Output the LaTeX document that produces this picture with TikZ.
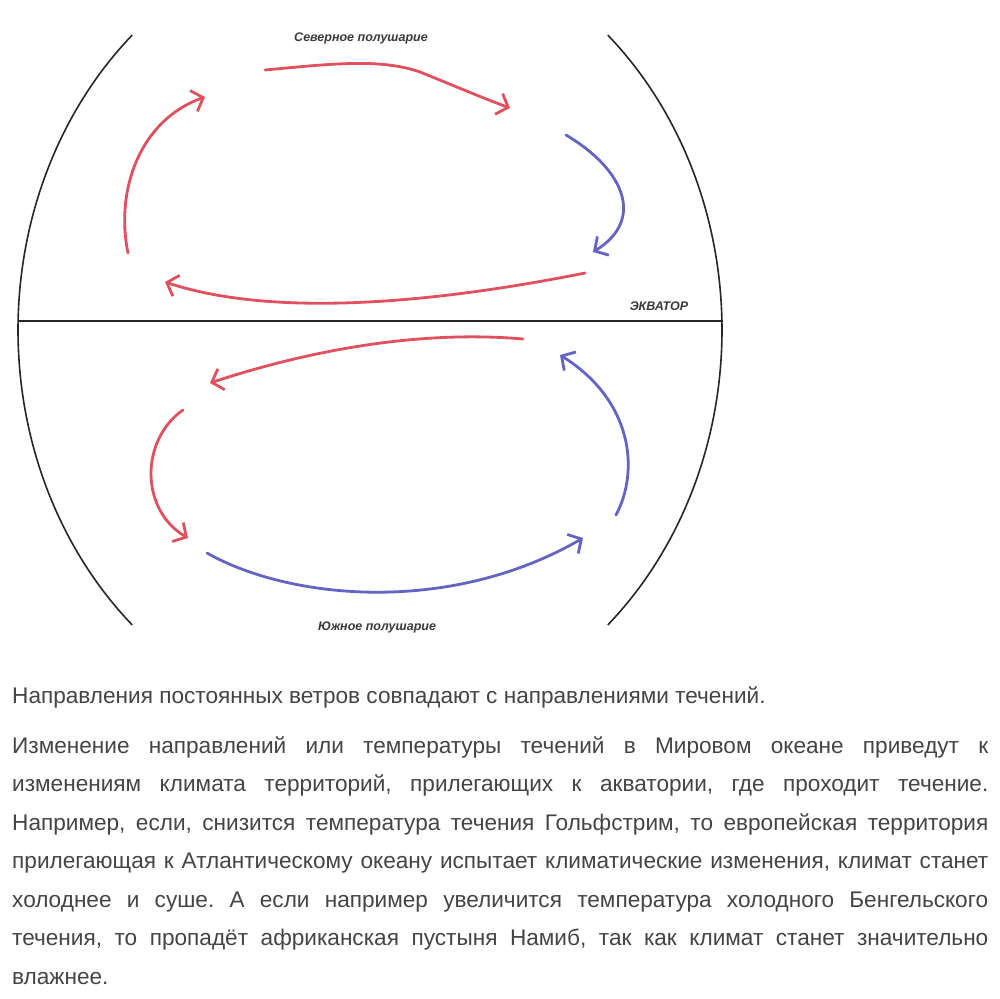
\documentclass[tikz,border=0pt]{standalone}
\usepackage{fontspec}
\setmainfont{Liberation Sans}
\usetikzlibrary{arrows.meta}

\definecolor{currwarm}{RGB}{224,80,94}
\definecolor{currcold}{RGB}{100,100,196}
\definecolor{inkgray}{RGB}{58,58,58}

\begin{document}
\frenchspacing
\begin{tikzpicture}[x=1pt, y=-1pt,
  warm/.style={draw=currwarm, line width=2.8pt, line cap=round,
               -{Straight Barb[length=10pt, width=22pt]}},
  cold/.style={warm, draw=currcold},
  hemi/.style={font=\fontsize{12.5}{15}\selectfont\bfseries\itshape, text=inkgray, inner sep=0pt},
  rim/.style={line width=1.6pt, black!85},
  lead/.style={font=\fontsize{22.6}{38.5}\selectfont, text=inkgray!95, inner sep=0pt},
  body/.style={lead, align=justify, text width=976pt},
]
\useasboundingbox (0,0) rectangle (1000,998);

% Globe outline and equator
\draw[rim] (370,330) ++(227.5:352 and 400) arc[start angle=227.5, end angle=132.5, x radius=352, y radius=400];
\draw[rim] (370,330) ++(-47.5:352 and 400) arc[start angle=-47.5, end angle=47.5, x radius=352, y radius=400];
\draw[rim, line width=2pt] (18,321) -- (723,321);

% Labels
\node[hemi] (north) at (361,38) {Северное полушарие};
\node[hemi] (equator) at (659,306) {ЭКВАТОР};
\node[hemi] (south) at (377,627) {Южное полушарие};

% === Northern gyre (clockwise) ===
\draw[warm] (265,70) .. controls (330,64) and (380,58) .. (420,72)
            .. controls (450,84) and (480,97) .. (510,108);
\draw[cold] (566,135) .. controls (625,170) and (645,220) .. (593,252);
\draw[warm] (585,273) .. controls (450,300) and (280,320) .. (165,282);
\draw[warm] (128,253) .. controls (115,190) and (140,120) .. (205,97);

% === Southern gyre (counter-clockwise) ===
\draw[warm] (523,339) .. controls (420,330) and (310,350) .. (210,383);
\draw[warm] (183,410) .. controls (140,440) and (140,510) .. (188,538);
\draw[cold] (207,553) .. controls (290,600) and (450,615) .. (583,538);
\draw[cold] (616,515) .. controls (640,470) and (632,400) .. (560,355);

% Answer text
\node[lead, anchor=base west] (answer1) at (12,703)
  {Направления постоянных ветров совпадают с направлениями течений.};
\node[body, anchor=base west] (answer2) at (12,753)
  {Изменение направлений или температуры течений в Мировом океане приведут к\linebreak
   изменениям климата территорий, прилегающих к акватории, где проходит течение.\linebreak
   Например, если, снизится температура течения Гольфстрим, то европейская территория\linebreak
   прилегающая к Атлантическому океану испытает климатические изменения, климат станет\linebreak
   холоднее и суше. А если например увеличится температура холодного Бенгельского\linebreak
   течения, то пропадёт африканская пустыня Намиб, так как климат станет значительно\linebreak
   влажнее.};

\end{tikzpicture}
\end{document}
